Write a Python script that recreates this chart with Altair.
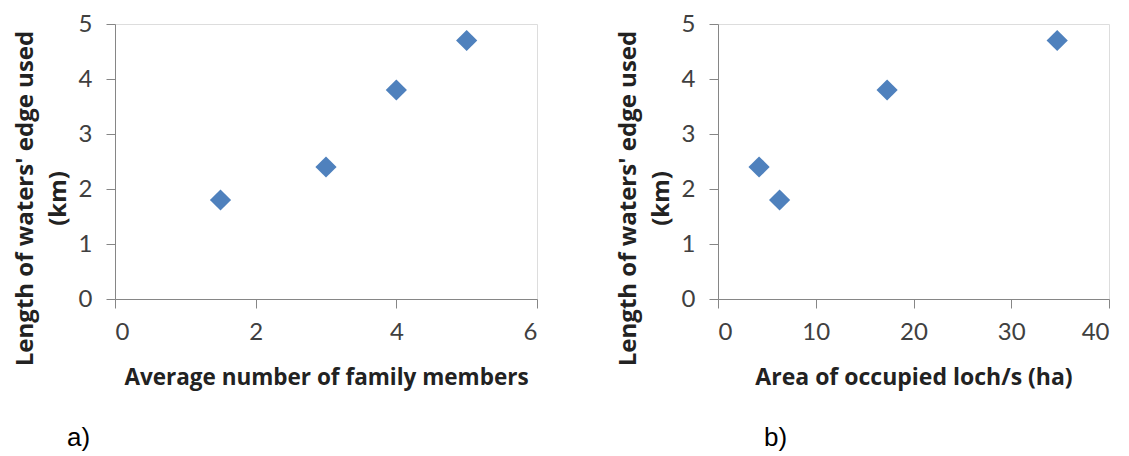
import altair as alt
import pandas as pd

# Panel a)
family_members = [1.5, 3, 4, 5]
edge_a = [1.8, 2.4, 3.8, 4.7]
# Panel b)
loch_area = [4.2, 6.3, 17.3, 34.7]
edge_b = [2.4, 1.8, 3.8, 4.7]

x_ticks_a = [0, 2, 4, 6]
x_ticks_b = [0, 10, 20, 30, 40]
y_ticks = [0, 1, 2, 3, 4, 5]

df_a = pd.DataFrame({"x": family_members, "y": edge_a})
df_b = pd.DataFrame({"x": loch_area, "y": edge_b})

LABEL_FONT = "Lato"
TITLE_FONT = "Open Sans"
AXIS_GRAY = "#868686"
MARK_COLOR = "#4F81BD"

common_axis = dict(
    grid=False,
    domainColor=AXIS_GRAY,
    tickColor=AXIS_GRAY,
    tickSize=9,
    labelFont=LABEL_FONT,
    labelFontSize=24,
    labelColor="#404040",
    titleFont=TITLE_FONT,
    titleFontWeight="bold",
    titleColor="#222222",
)

y_title = ["Length of waters' edge used", "(km)"]


def panel(df, xdom, xticks, xtitle, xtitle_size, label, width, label_dx):
    x_axis = alt.Axis(values=xticks, title=xtitle, labelPadding=12,
                      titlePadding=22, titleFontSize=xtitle_size, **common_axis)
    y_axis = alt.Axis(values=y_ticks, title=y_title, labelPadding=14,
                      titleFontSize=24,
                      titleAngle=-90, titleX=-90, titleY=174,
                      titleAlign="center", titleBaseline="middle",
                      titleLineHeight=33, **common_axis)
    return alt.Chart(df).mark_point(
        shape="diamond", filled=True, size=450, color=MARK_COLOR, opacity=1
    ).encode(
        x=alt.X("x:Q", scale=alt.Scale(domain=xdom, nice=False, zero=True), axis=x_axis),
        y=alt.Y("y:Q", scale=alt.Scale(domain=[0, 5], nice=False), axis=y_axis),
    ).properties(
        width=width, height=275,
        title=alt.TitleParams(label, orient="bottom", anchor="start", frame="group",
                              dx=label_dx, offset=36, font="Liberation Sans",
                              fontSize=26, fontWeight="normal", color="#000000"),
    )


left = panel(df_a, [0, 6], x_ticks_a, "Average number of family members", 22.5, "a)", 422, -48)
right = panel(df_b, [0, 40], x_ticks_b, "Area of occupied loch/s (ha)", 23, "b)", 391, 46)

chart = alt.hconcat(left, right, spacing=181, bounds="flush").properties(
    padding={"left": 4, "top": 3, "right": 0, "bottom": 0}
).configure_view(stroke=None).configure(background="white")

chart.save("out.html", embed_options={"renderer": "svg", "actions": False})
